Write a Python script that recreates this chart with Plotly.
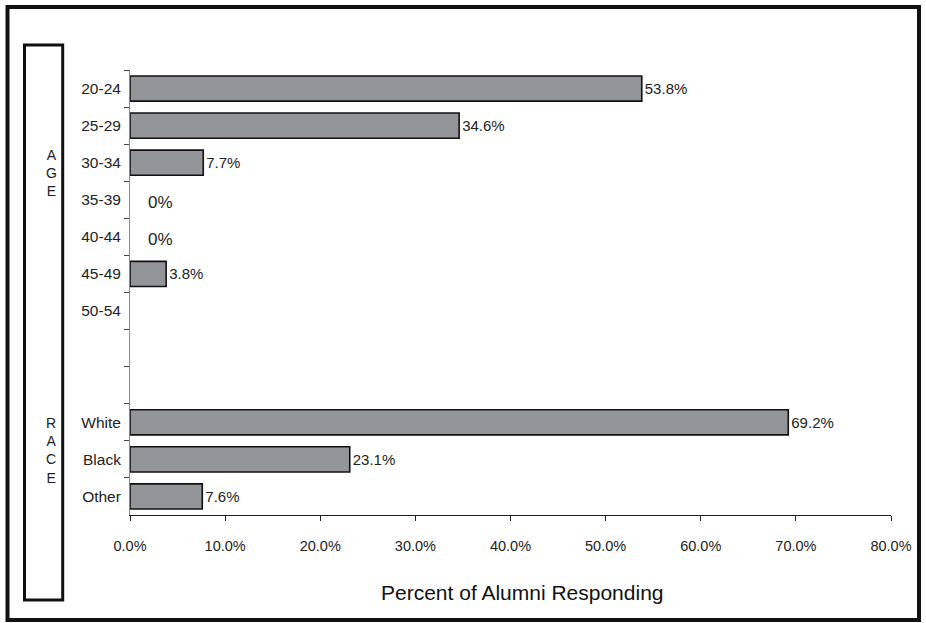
import plotly.graph_objects as go

categories = ["20-24", "25-29", "30-34", "35-39", "40-44", "45-49", "50-54", " ", "  ", "White", "Black", "Other"]
values = [53.8, 34.6, 7.7, 0, 0, 3.8, None, None, None, 69.2, 23.1, 7.6]
labels = ["53.8%", "34.6%", "7.7%", "", "", "3.8%", "", "", "", "69.2%", "23.1%", "7.6%"]
zero_labels = ["", "", "", "0%", "0%", "", "", "", "", "", "", ""]
group_titles = ["A<br>G<br>E", "R<br>A<br>C<br>E"]
group_rows = [2.28, 9.75]
x_title = "Percent of Alumni Responding"

W, H = 926, 623
L, R, T, B = 130, 891, 70, 515
FONT = "Arial, Liberation Sans, sans-serif"

def px(x):  # page x -> paper
    return (x - L) / (R - L)

def py(y):  # page y -> paper
    return (B - y) / (B - T)

line_widths = [1.6 if (v is not None and v > 0) else 0 for v in values]

fig = go.Figure()
fig.add_trace(go.Bar(
    y=categories, x=values, orientation="h",
    marker=dict(color="#939598", line=dict(color="#111111", width=line_widths)),
    width=0.68,
    text=labels, textposition="outside", cliponaxis=False,
    textfont=dict(family=FONT, size=15, color="#222222"),
    hoverinfo="skip",
))

for c, t in zip(categories, zero_labels):
    if t:
        fig.add_annotation(x=0, y=c, text=t, showarrow=False, xanchor="left",
                           xshift=16, yshift=-3, font=dict(family=FONT, size=17, color="#222222"))

for t, r in zip(group_titles, group_rows):
    fig.add_annotation(x=px(44), xref="paper", y=r, yref="y", text=t, showarrow=False,
                       font=dict(family=FONT, size=14, color="#222222"), align="center")

fig.add_annotation(x=px(522), xref="paper", y=py(592), yref="paper", text=x_title,
                   showarrow=False, xanchor="center", yanchor="middle",
                   font=dict(family=FONT, size=21, color="#111111"))

shapes = [
    dict(type="rect", xref="paper", yref="paper", x0=px(7.5), x1=px(919), y0=py(7), y1=py(620),
         line=dict(color="#111111", width=4), fillcolor="rgba(0,0,0,0)", layer="below"),
    dict(type="rect", xref="paper", yref="paper", x0=px(24.5), x1=px(62.7), y0=py(45), y1=py(600),
         line=dict(color="#111111", width=3), fillcolor="rgba(0,0,0,0)", layer="below"),
]

fig.update_layout(
    width=W, height=H,
    margin=dict(l=L, r=W - R, t=T, b=H - B),
    plot_bgcolor="white", paper_bgcolor="white",
    showlegend=False, bargap=0.32,
    font=dict(family=FONT, size=12, color="#222222"),
    shapes=shapes,
    xaxis=dict(range=[0, 80], dtick=10, tick0=0, tickformat=".1f", ticksuffix="%",
               showgrid=False, zeroline=False, showline=True, linecolor="#222222", linewidth=1,
               ticks="outside", ticklen=5, tickcolor="#222222", ticklabelstandoff=13,
               tickfont=dict(family=FONT, size=14.5, color="#222222"), automargin=False),
    yaxis=dict(autorange="reversed", showgrid=False, zeroline=False, showline=True,
               linecolor="#888888", linewidth=1, ticks="outside", ticklen=5, tickcolor="#444444",
               tickson="boundaries", ticklabelstandoff=5, automargin=False,
               tickfont=dict(family=FONT, size=15.5, color="#222222")),
)

fig.write_html("out.html", config={"displayModeBar": False},
               post_script="document.body.style.margin='0px';")
